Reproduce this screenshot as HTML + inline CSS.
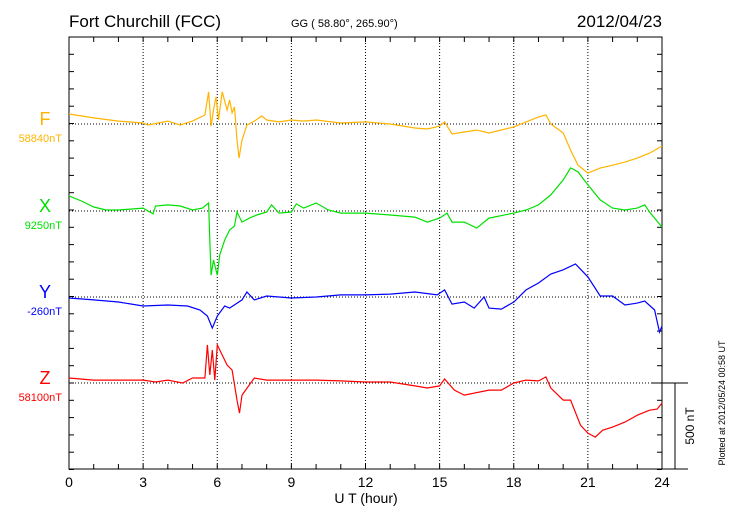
<!DOCTYPE html>
<html><head><meta charset="utf-8"><style>
body{margin:0;background:#fff;overflow:hidden;}
svg{display:block;font-family:"Liberation Sans",sans-serif;}
</style></head><body>
<svg id="chart" width="730" height="520" viewBox="0 0 730 520">
<text x="69" y="27" font-size="17">Fort Churchill (FCC)</text>
<text x="291" y="27" font-size="11">GG ( 58.80°, 265.90°)</text>
<text x="662" y="27" font-size="17" text-anchor="end">2012/04/23</text>
<text x="366" y="503" font-size="14" text-anchor="middle">U T (hour)</text>
<text transform="translate(725,403) rotate(-90)" font-size="9" text-anchor="middle">Plotted at 2012/05/24 00:58 UT</text>
<text transform="translate(694,426) rotate(-90)" font-size="12" text-anchor="middle">500 nT</text>
<g id="axes"></g>
<g id="series"></g>
</svg>
<script>
const xTickHours=[0,3,6,9,12,15,18,21,24];
const gridHours=[3,6,9,12,15,18,21];
const compNames=["F","X","Y","Z"];
const compBaselines=["58840nT","9250nT","-260nT","58100nT"];
const compColors=["#ffb400","#00e000","#0000ff","#ff0000"];
const fHours=[0,1,2,3,3.2,4,4.5,5,5.5,5.65,5.75,5.85,5.95,6.05,6.2,6.4,6.5,6.6,6.7,6.8,6.88,7,7.2,7.5,7.8,8,8.5,9,9.5,10,11,12,13,14,14.5,15,15.2,15.5,16,16.5,17,18,18.5,19,19.3,19.5,20,20.3,20.6,21,21.5,22,22.5,23,23.5,24];
const fValues=[58,35,17,6,-6,17,-6,17,52,186,-12,81,157,23,186,81,139,64,99,-93,-197,-93,-6,17,46,23,12,23,17,23,6,12,0,-23,-29,-12,12,-58,-46,-35,-52,-17,12,41,52,0,-52,-151,-238,-284,-255,-238,-220,-197,-168,-128];
const xHours=[0,0.5,1,1.5,2,3,3.4,3.5,4,4.5,5,5.4,5.65,5.7,5.75,5.85,6,6.1,6.3,6.5,6.7,6.8,7,7.3,7.6,8,8.2,8.5,9,9.2,9.5,10,10.5,11,12,13,14,14.5,15,15.3,15.5,16,16.5,17,18,18.5,19,19.5,20,20.3,20.6,21,21.5,22,22.5,23,23.3,23.5,24];
const xValues=[87,58,23,6,6,17,-17,29,35,29,6,17,46,-168,-371,-284,-371,-255,-168,-110,-87,-6,-64,-41,-23,-6,35,-12,-6,41,17,46,6,-12,-12,-23,-35,-64,-41,-12,-64,-64,-99,-41,-12,6,35,93,180,249,226,151,64,17,6,17,35,-6,-93];
const yHours=[0,1,2,3,4,4.8,5.3,5.6,5.8,6,6.3,6.5,7,7.2,7.5,8,9,10,11,12,13,14,14.9,15.2,15.5,16,16.4,16.8,17,17.5,18,18.5,19,19.5,20,20.5,21,21.5,22,22.5,23,23.3,23.7,23.9,24];
const yValues=[-6,-17,-29,-52,-46,-52,-75,-110,-180,-110,-52,-64,-17,29,-17,6,-6,0,12,12,17,29,12,41,-41,-29,-64,0,-64,-70,-29,41,81,133,157,191,116,6,6,-46,-35,-23,-75,-203,-168];
const zHours=[0,1,2,3,3.5,4,4.6,5,5.5,5.6,5.7,5.8,5.9,6,6.2,6.4,6.6,6.8,6.9,7,7.5,8,9,10,11,12,13,14,14.5,15,15.2,15.6,16,17,17.5,18,18.5,19,19.3,19.5,20,20.3,20.7,21,21.3,21.6,22,22.5,23,23.5,23.8,24];
const zValues=[29,17,17,17,6,17,0,29,29,220,46,191,17,220,162,104,75,-99,-174,-70,29,17,17,17,12,6,6,-17,-29,-17,23,-41,-70,-41,-41,0,17,12,35,-29,-99,-99,-244,-290,-313,-273,-255,-226,-186,-157,-151,-116];

const L=69,R=662,T=37,B=469,TICK=17.3;
const baseY=[124,211,297,383];
const xs=h=>L+(R-L)*h/24;
const ys=(i,v)=>baseY[i]-v*TICK/100;
const NS="http://www.w3.org/2000/svg";
function mk(tag,attrs,parent){const e=document.createElementNS(NS,tag);for(const k in attrs)e.setAttribute(k,attrs[k]);parent.appendChild(e);return e;}
const ax=document.getElementById('axes'), sg=document.getElementById('series');
gridHours.forEach(h=>{
  const g=mk('line',{x1:xs(h),x2:xs(h),y1:T,y2:B,stroke:'#000','stroke-width':1,'stroke-dasharray':'1,2'},ax);
  
  
});
baseY.forEach((y,i)=>{
  const g=mk('line',{x1:L,x2:R,y1:y,y2:y,stroke:'#000','stroke-width':1,'stroke-dasharray':'1,2'},ax);
  
  
});
const fr=mk('rect',{x:L,y:T,width:R-L,height:B-T,fill:'none',stroke:'#000','stroke-width':1},ax);


for(let h=0;h<=24;h++){
  mk('line',{x1:xs(h),x2:xs(h),y1:T,y2:T+5,stroke:'#000'},ax);
  mk('line',{x1:xs(h),x2:xs(h),y1:B,y2:B-5,stroke:'#000'},ax);
}
for(let y=T;y<=B+1;y+=TICK){
  mk('line',{x1:L,x2:L+5,y1:y,y2:y,stroke:'#000'},ax);
  mk('line',{x1:R,x2:R-5,y1:y,y2:y,stroke:'#000'},ax);
}
xTickHours.forEach(h=>{
  const t=mk('text',{x:xs(h),y:487,'font-size':14,'text-anchor':'middle'},ax);
  t.textContent=h;
  
  
});
mk('line',{x1:R-10,x2:688,y1:383,y2:383,stroke:'#000'},ax);
mk('line',{x1:R,x2:688,y1:B,y2:B,stroke:'#000'},ax);
const sb=mk('line',{x1:675,x2:675,y1:383,y2:B,stroke:'#000'},ax);


const allH=[fHours,xHours,yHours,zHours], allV=[fValues,xValues,yValues,zValues];
compNames.forEach((n,i)=>{
  const t=mk('text',{x:45,y:baseY[i]+1,'font-size':18,'text-anchor':'middle',fill:compColors[i]},sg);
  t.textContent=n;
  
  
  const b=mk('text',{x:62,y:baseY[i]+18,'font-size':11,'text-anchor':'end',fill:compColors[i]},sg);
  b.textContent=compBaselines[i];
  
  
  const pts=allH[i].map((h,k)=>xs(h).toFixed(1)+','+ys(i,allV[i][k]).toFixed(1)).join(' ');
  const p=mk('polyline',{points:pts,fill:'none',stroke:compColors[i],'stroke-width':1.2},sg);
  
  
});
</script>
</body></html>
